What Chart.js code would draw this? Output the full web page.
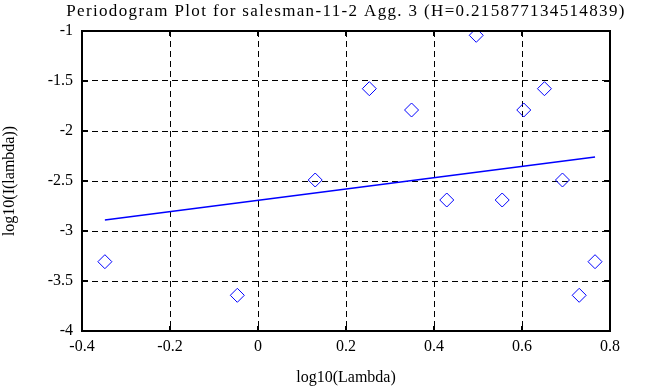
<!DOCTYPE html>
<html>
<head>
<meta charset="utf-8">
<script src="https://cdn.jsdelivr.net/npm/chart.js@4.4.0/dist/chart.umd.min.js"></script>
<style>
    html, body { margin: 0; padding: 0; background: #fff; }
    #wrap { width: 668px; height: 387px; }
</style>
</head>
<body>
<div id="wrap"><canvas id="periodogram"></canvas></div>
<script>
// puntos del periodograma (log10 lambda, log10 I(lambda))
var logLambda = [-0.348, -0.047, 0.130, 0.253, 0.349, 0.429, 0.496, 0.555, 0.604, 0.651, 0.692, 0.730, 0.766];
var logPeriod = [-3.307, -3.643, -2.49, -1.577, -1.79, -2.69, -1.043, -2.69, -1.79, -1.577, -2.49, -3.643, -3.307];

// recta de ajuste
var fitX = [-0.348, 0.766];
var fitY = [-2.89, -2.26];

var xTicks = [-0.4, -0.2, 0, 0.2, 0.4, 0.6, 0.8];
var yTicks = [-4, -3.5, -3, -2.5, -2, -1.5, -1];

var chartTitle = "Periodogram Plot for salesman-11-2 Agg. 3 (H=0.215877134514839)";
var xTitle = "log10(Lambda)";
var yTitle = "log10(I(lambda))";

var serif = "'Liberation Serif', 'Times New Roman', serif";

function toPoints(xs, ys) {
    var out = [];
    for (var i = 0; i < xs.length; i++) {
        out.push({ x: xs[i], y: ys[i] });
    }
    return out;
}

var ctx1 = document.getElementById("periodogram").getContext("2d");
var hasSpacing = "letterSpacing" in ctx1;
var titleSize = hasSpacing ? 17 : 19;

// espaciado de letras solo para el titulo
var spacingPlugin = {
    id: "titleSpacing",
    beforeDraw: function (chart) {
        var tb = chart.titleBlock;
        if (!hasSpacing || !tb || tb._spaced) return;
        var orig = tb.draw;
        tb.draw = function (area) {
            var c = chart.ctx;
            c.save();
            c.letterSpacing = "1.35px";
            orig.call(tb, area);
            c.restore();
        };
        tb._spaced = true;
    },
};

// marco y marcas interiores
var framePlugin = {
    id: "frame",
    afterDraw: function (chart) {
        var ctx = chart.ctx;
        var a = chart.chartArea;
        var sx = chart.scales.x;
        var sy = chart.scales.y;
        ctx.save();
        ctx.strokeStyle = "#000";
        ctx.lineWidth = 2;
        ctx.strokeRect(a.left, a.top, a.right - a.left, a.bottom - a.top);
        ctx.beginPath();
        xTicks.forEach(function (v) {
            var px = Math.round(sx.getPixelForValue(v));
            ctx.moveTo(px, a.bottom);
            ctx.lineTo(px, a.bottom - 5);
            ctx.moveTo(px, a.top);
            ctx.lineTo(px, a.top + 5);
        });
        yTicks.forEach(function (v) {
            var py = Math.round(sy.getPixelForValue(v));
            ctx.moveTo(a.left, py);
            ctx.lineTo(a.left + 6, py);
            ctx.moveTo(a.right, py);
            ctx.lineTo(a.right - 6, py);
        });
        ctx.stroke();
        ctx.restore();
    },
};

var chart1 = new Chart(ctx1, {
    type: "scatter",
    data: {
        datasets: [
            {
                label: "periodogram",
                data: toPoints(logLambda, logPeriod),
                pointStyle: "rectRot",
                pointRadius: 7,
                pointBorderWidth: 1,
                borderColor: "#0000ff",
                backgroundColor: "rgba(255,255,255,0)",
                showLine: false,
            },
            {
                label: "fit",
                data: toPoints(fitX, fitY),
                showLine: true,
                borderColor: "#0000ff",
                borderWidth: 1.5,
                pointRadius: 0,
                fill: false,
            },
        ],
    },
    options: {
        responsive: true,
        maintainAspectRatio: false,
        animation: false,
        layout: { padding: { left: 24, right: 0, top: 0, bottom: 0 } },
        plugins: {
            legend: { display: false },
            tooltip: { enabled: false },
            title: {
                display: true,
                text: chartTitle,
                color: "#000",
                font: { family: serif, size: titleSize, weight: "normal" },
                padding: { top: 1, bottom: 31 - 1 - titleSize * 1.2 },
            },
        },
        scales: {
            x: {
                type: "linear",
                min: -0.4,
                max: 0.8,
                afterBuildTicks: function (axis) {
                    axis.ticks = xTicks.map(function (v) { return { value: v }; });
                },
                afterFit: function (axis) { axis.height = 56; },
                grid: {
                    color: "#000",
                    lineWidth: 1,
                    drawTicks: false,
                    tickLength: 0,
                },
                border: { display: false, dash: [6, 4] },
                ticks: {
                    color: "#000",
                    padding: 6,
                    font: { family: serif, size: 16 },
                    callback: function (v) { return String(Math.round(v * 10) / 10); },
                },
                title: {
                    display: true,
                    text: xTitle,
                    color: "#000",
                    padding: { top: 0, bottom: 0 },
                    font: { family: serif, size: 16 },
                },
            },
            y: {
                type: "linear",
                min: -4,
                max: -1,
                afterBuildTicks: function (axis) {
                    axis.ticks = yTicks.map(function (v) { return { value: v }; });
                },
                afterFit: function (axis) { axis.width = 58; },
                grid: {
                    color: "#000",
                    lineWidth: 1,
                    drawTicks: false,
                    tickLength: 0,
                },
                border: { display: false, dash: [6, 4] },
                ticks: {
                    color: "#000",
                    padding: 9,
                    font: { family: serif, size: 16 },
                    callback: function (v) { return String(Math.round(v * 10) / 10); },
                },
                title: {
                    display: true,
                    text: yTitle,
                    color: "#000",
                    padding: { top: -23.6, bottom: 0 },
                    font: { family: serif, size: 16 },
                },
            },
            // eje derecho vacio, solo reserva el margen
            yRight: {
                type: "linear",
                position: "right",
                min: -4,
                max: -1,
                afterFit: function (axis) { axis.width = 58; },
                grid: { display: false, drawTicks: false },
                border: { display: false },
                ticks: { display: false },
            },
        },
    },
    plugins: [spacingPlugin, framePlugin],
});
</script>
</body>
</html>
